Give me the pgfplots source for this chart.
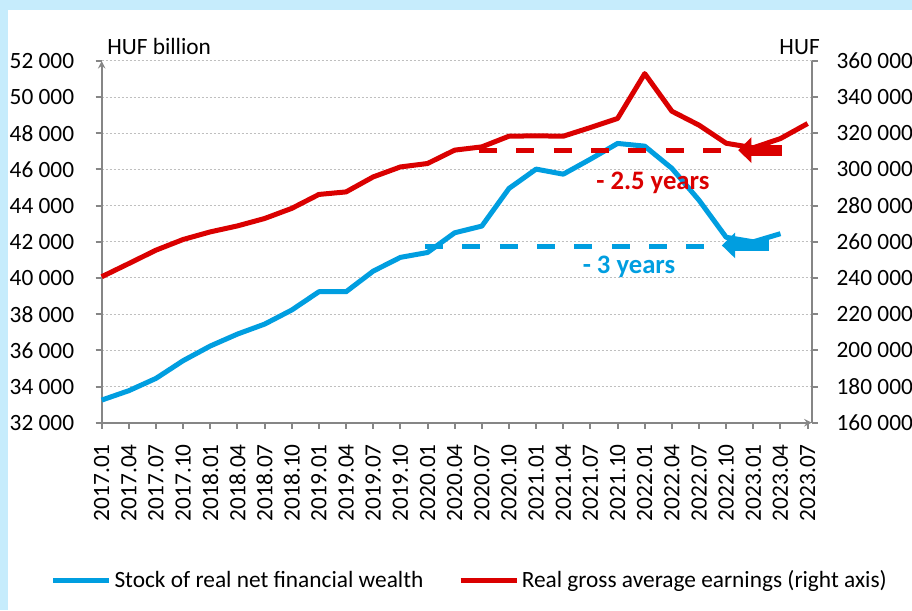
\documentclass[border=0pt]{standalone}
\usepackage{fontspec}
\setmainfont{Carlito}
\usepackage{pgfplots}
\pgfplotsset{compat=1.18}
\usetikzlibrary{arrows.meta}
\definecolor{mnbblue}{RGB}{0,158,224}
\definecolor{mnbred}{RGB}{218,0,0}
\definecolor{framebg}{RGB}{198,236,252}
\definecolor{axgray}{RGB}{134,134,134}
\definecolor{gridgray}{RGB}{191,191,191}
\newcommand{\tf}{\fontsize{17.5}{21}\selectfont}
\newcommand{\af}{\bfseries\fontsize{20}{24}\selectfont}

\pgfplotsset{
  common/.style={
    at={(76.28pt,140.48pt)}, anchor=south west,
    scale only axis, width=532.5pt, height=271.3pt,
    xmin=0, xmax=26.15, clip=false,
    axis line style={axgray, line width=1.5pt, -},
    tick style={axgray, line width=1.5pt},
    major tick length=4.5pt,
    tick label style={font=\tf, inner sep=0pt},
    /pgf/number format/assume math mode=true,
    /pgf/number format/1000 sep={\ },
    /pgf/number format/fixed,
    scaled y ticks=false,
  }
}

\begin{document}
\begin{tikzpicture}
\fill[framebg] (0,0) rectangle (684pt,457.5pt);
\fill[white] (6pt,0) rectangle (684pt,450pt);

\begin{axis}[common,
  axis x line=bottom, axis y line=left,
  tick align=outside,
  ymin=32000, ymax=52000,
  ytick={32000,34000,36000,38000,40000,42000,44000,46000,48000,50000,52000},
  yticklabel style={anchor=east, xshift=-16pt},
  xtick={0,1,2,3,4,5,6,7,8,9,10,11,12,13,14,15,16,17,18,19,20,21,22,23,24,25,26},
  xticklabels={2017.01,2017.04,2017.07,2017.10,2018.01,2018.04,2018.07,2018.10,2019.01,2019.04,2019.07,2019.10,2020.01,2020.04,2020.07,2020.10,2021.01,2021.04,2021.07,2021.10,2022.01,2022.04,2022.07,2022.10,2023.01,2023.04,2023.07},
  xticklabel style={rotate=90, anchor=east, xshift=-11.5pt},
  ymajorgrids,
  grid style={gridgray, line width=0.75pt, dash pattern=on 1.9pt off 1.1pt},
]
\addplot[mnbblue, line width=3.75pt, dash pattern=on 13.5pt off 14.5pt, forget plot]
  coordinates {(11.91,41750) (22.3,41750)};
\addplot[mnbblue, line width=3.75pt, line join=round] coordinates {
(0,33250) (1,33770) (2,34450) (3,35430) (4,36240) (5,36900) (6,37450)
(7,38230) (8,39240) (9,39240) (10,40380) (11,41140) (12,41410) (13,42500)
(14,42870) (15,44950) (16,46020) (17,45740) (18,46570) (19,47440) (20,47290)
(21,46060) (22,44300) (23,42250) (24,42000) (25,42450)};
\addplot[mnbblue, line width=8.25pt, -{Triangle[length=10pt,width=18.75pt]}, forget plot]
  coordinates {(24.58,41800) (22.84,41800)};
\node[mnbblue, font=\af] at (axis cs:19.42,40620) {- 3 years};
\node[anchor=base west, font=\tf, inner sep=0pt] at ([xshift=4pt,yshift=5pt]rel axis cs:0,1) {HUF billion};
\end{axis}

\begin{axis}[common,
  axis y line*=right, axis x line=none,
  tick align=outside,
  ymin=160000, ymax=360000,
  ytick={160000,180000,200000,220000,240000,260000,280000,300000,320000,340000,360000},
  yticklabel style={anchor=west, xshift=14pt},
  legend style={at={(-0.072,-0.435)}, anchor=west, draw=none, fill=none, font=\tf,
    inner sep=0pt, legend columns=2,
    /tikz/every even column/.append style={column sep=24pt}},
  legend image code/.code={\draw[#1] (0pt,0pt) -- (42pt,0pt);},
]
\addlegendimage{mnbblue, line width=3.75pt}
\addlegendentry{Stock of real net financial wealth}
\addplot[mnbred, line width=3.75pt, line join=round] coordinates {
(0,240700) (1,248000) (2,255400) (3,261300) (4,265500) (5,268800) (6,272900)
(7,278500) (8,286200) (9,287600) (10,295900) (11,301400) (12,303300) (13,310700)
(14,312500) (15,318400) (16,318600) (17,318400) (18,323200) (19,328200) (20,353000)
(21,332200) (22,324500) (23,314500) (24,312000) (25,317100) (26,325400)};
\addlegendentry{Real gross average earnings (right axis)}
\addplot[mnbred, line width=3.75pt, dash pattern=on 13.5pt off 14.5pt, forget plot]
  coordinates {(13.9,310700) (22.85,310700)};
\addplot[mnbred, line width=8.25pt, -{Triangle[length=10pt,width=18.75pt]}, forget plot]
  coordinates {(25.05,310700) (23.44,310700)};
\node[mnbred, font=\af] at (axis cs:20.3,292430) {- 2.5 years};
\node[anchor=base east, font=\tf, inner sep=0pt] at ([xshift=6.2pt,yshift=5pt]rel axis cs:1,1) {HUF};
\end{axis}
\pgfresetboundingbox
\path (0,0) rectangle (684pt,457.5pt);
\end{tikzpicture}
\end{document}
